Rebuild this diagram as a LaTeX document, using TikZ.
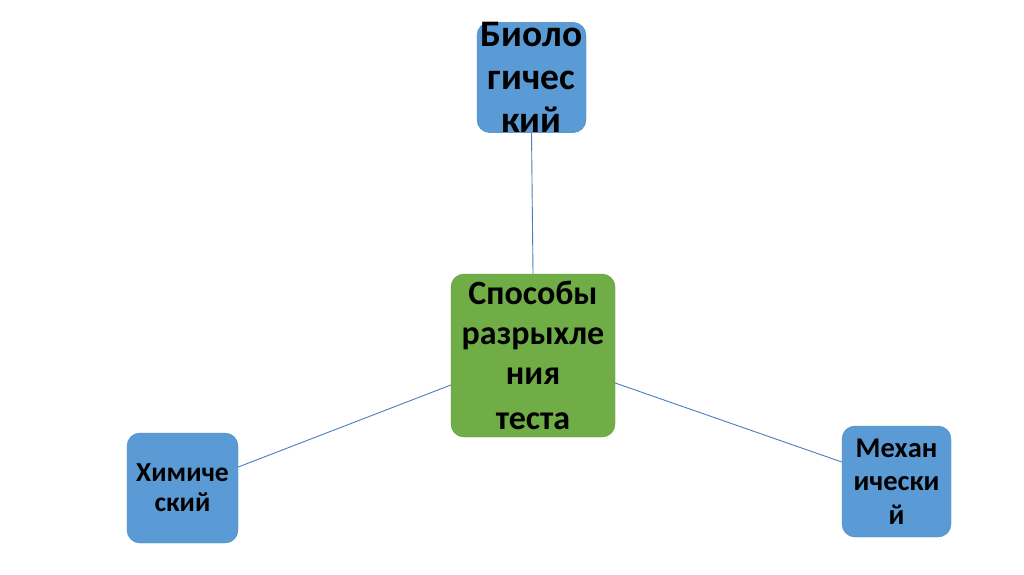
\documentclass[tikz,border=0pt]{standalone}
\usepackage{fontspec}
\setmainfont{Carlito}
\begin{document}
\begin{tikzpicture}[x=1pt,y=-1pt,
  box/.style={rectangle,rounded corners=13pt,inner sep=0pt,align=center,font=\bfseries},
  bluebox/.style={box,fill=boxblue,draw=boxblue!85!black,line width=0.4pt},
  greenbox/.style={box,fill=boxgreen,draw=boxgreen!85!black,line width=0.4pt},
  link/.style={draw=linkblue,line width=0.9pt}]
\definecolor{boxblue}{HTML}{5B9BD5}
\definecolor{boxgreen}{HTML}{70AD47}
\definecolor{linkblue}{HTML}{4A7EBB}
\useasboundingbox (0,0) rectangle (1024,574);
\fill[white] (0,0) rectangle (1024,574);
\node[bluebox,minimum width=109pt,minimum height=107pt,font=\bfseries\fontsize{37.5}{43}\selectfont] (bio) at (531.5,77.5) {Биоло\\гичес\\кий};
\node[greenbox,minimum width=164pt,minimum height=163pt,font=\bfseries\fontsize{34}{40}\selectfont] (main) at (533,355.5) {Способы\\разрыхле\\ния\\[5pt]теста};
\node[bluebox,minimum width=111pt,minimum height=110pt,font=\bfseries\fontsize{27.5}{30}\selectfont] (chem) at (182.5,488) {Химиче\\ский};
\node[bluebox,minimum width=109pt,minimum height=111pt,font=\bfseries\fontsize{28.5}{33.5}\selectfont] (mech) at (896.5,481.5) {Механ\\ически\\й};
\draw[link] (bio.south) -- (main.north);
\draw[link] ([yshift=-29.5pt]main.west) -- ([yshift=21pt]chem.east);
\draw[link] ([yshift=-27.5pt]main.east) -- ([yshift=19.5pt]mech.west);
\end{tikzpicture}
\end{document}
